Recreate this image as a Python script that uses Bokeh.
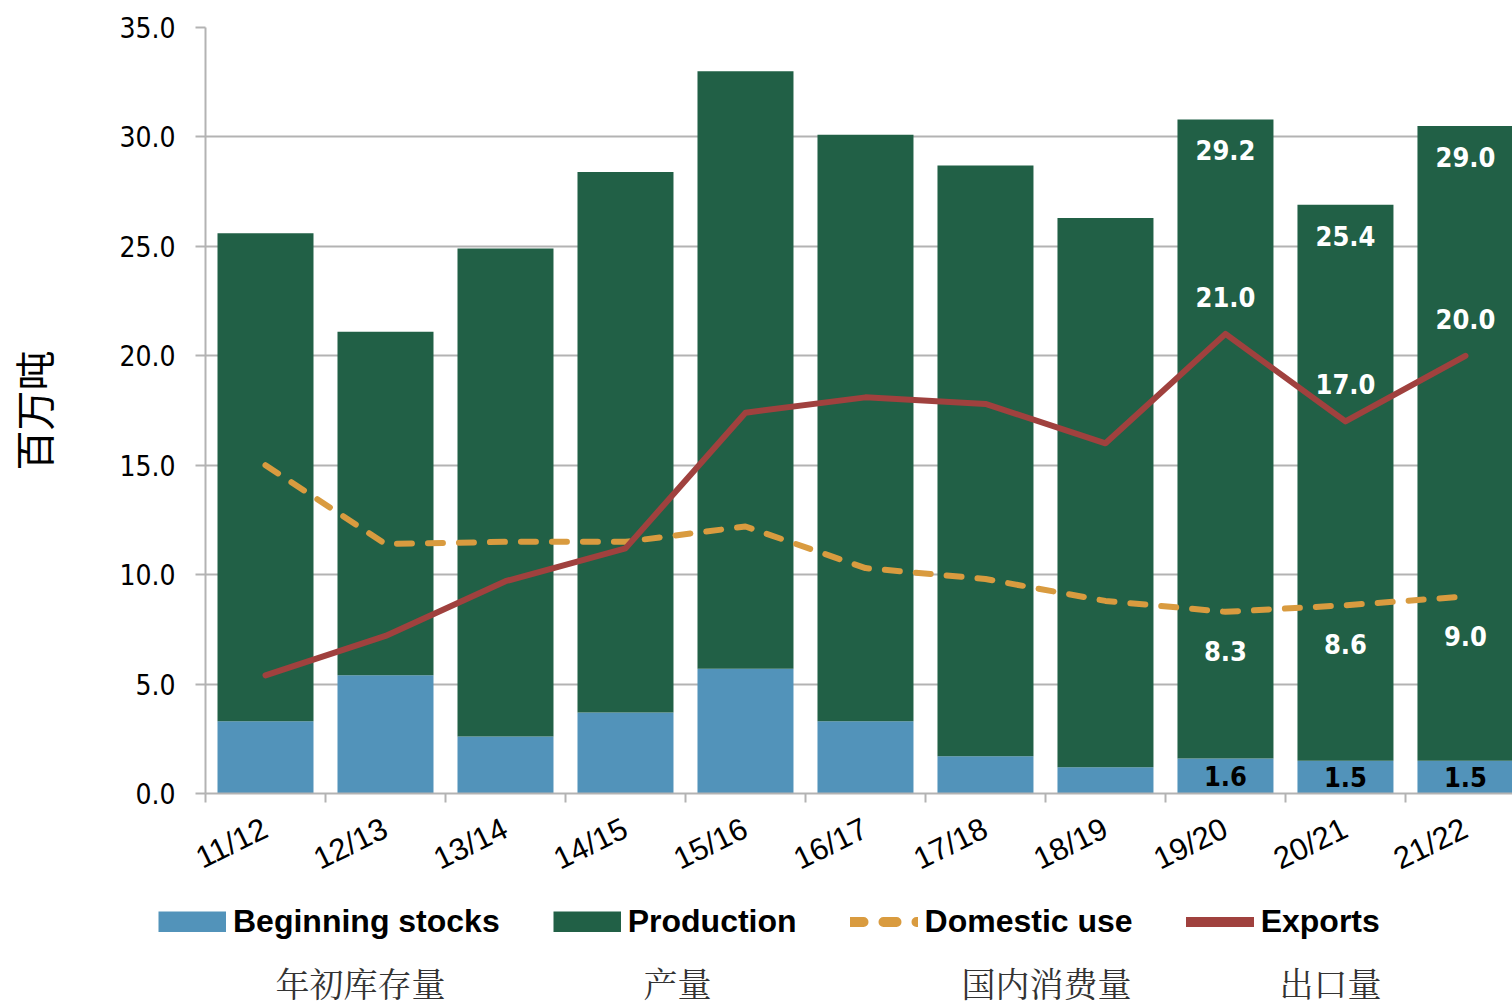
import math
from bokeh.plotting import figure
from bokeh.models import (ColumnDataSource, Range1d, FixedTicker, NumeralTickFormatter,
                          Legend, LegendItem, Label)
from bokeh.core.properties import value
from bokeh.embed import file_html
from bokeh.resources import INLINE

seasons = ["11/12", "12/13", "13/14", "14/15", "15/16", "16/17",
           "17/18", "18/19", "19/20", "20/21", "21/22"]
beginning_stocks = [3.3, 5.4, 2.6, 3.7, 5.7, 3.3, 1.7, 1.2, 1.6, 1.5, 1.5]
production = [22.3, 15.7, 22.3, 24.7, 27.3, 26.8, 27.0, 25.1, 29.2, 25.4, 29.0]
domestic_use = [15.0, 11.4, 11.5, 11.5, 12.2, 10.3, 9.8, 8.8, 8.3, 8.6, 9.0]
exports = [5.4, 7.2, 9.7, 11.2, 17.4, 18.1, 17.8, 16.0, 21.0, 17.0, 20.0]
labelled_from = 8  # value labels shown for the last three seasons
y_ticks = [0, 5, 10, 15, 20, 25, 30, 35]
legend_en = ["Beginning stocks", "Production", "Domestic use", "Exports"]
legend_cn = ["年初库存量", "产量", "国内消费量", "出口量"]

BLUE = "#5293BA"
GREEN = "#216046"
ORANGE = "#D99B3F"
RED = "#A0413E"
GRAY = "#B3B3B3"
NARROW = "'Liberation Sans Narrow', 'DejaVu Sans Condensed', 'Liberation Sans'"

centers = [i + 0.5 for i in range(len(seasons))]
totals = [s + p for s, p in zip(beginning_stocks, production)]

src = ColumnDataSource(dict(x=centers, stocks=beginning_stocks, production=production,
                            domestic=domestic_use, exports=exports))

p = figure(width=1512, height=903, x_range=Range1d(0, 10.892), y_range=Range1d(0, 35),
           output_backend="svg", toolbar_location=None,
           min_border_left=205, min_border_right=0, min_border_top=27, min_border_bottom=110)
p.outline_line_color = None

bars = p.vbar_stack(["stocks", "production"], x="x", width=0.8, color=[BLUE, GREEN],
                    line_color=None, source=src)
p.line("x", "domestic", source=src, line_color=ORANGE, line_width=6,
       line_dash="15 16", line_cap="round", line_join="round")
p.line("x", "exports", source=src, line_color=RED, line_width=6,
       line_cap="round", line_join="round")

k = labelled_from
lab = ColumnDataSource(dict(
    x=centers[k:],
    total=totals[k:],
    prod_txt=["%.1f" % v for v in production[k:]],
    stock_mid=[v / 2 for v in beginning_stocks[k:]],
    stock_txt=["%.1f" % v for v in beginning_stocks[k:]],
    dom=domestic_use[k:],
    dom_txt=["%.1f" % v for v in domestic_use[k:]],
    exp=exports[k:],
    exp_txt=["%.1f" % v for v in exports[k:]],
))
common = dict(source=lab, text_align="center", text_baseline="middle",
              text_font=value(NARROW), text_font_style="bold", text_font_size="27px")
p.text(x="x", y="total", text="prod_txt", y_offset=31, text_color="white", **common)
p.text(x="x", y="stock_mid", text="stock_txt", text_color="black", **common)
p.text(x="x", y="exp", text="exp_txt", y_offset=-37, text_color="white", **common)
p.text(x="x", y="dom", text="dom_txt", y_offset=39, text_color="white", **common)

# x axis
xa = p.xaxis[0]
xa.ticker = FixedTicker(ticks=centers, minor_ticks=list(range(len(seasons) + 1)))
xa.major_label_overrides = {c: s for c, s in zip(centers, seasons)}
xa.major_tick_out = 0
xa.major_tick_in = 0
xa.minor_tick_out = 9
xa.minor_tick_in = 0
xa.minor_tick_line_color = GRAY
xa.minor_tick_line_width = 2
xa.axis_line_color = GRAY
xa.axis_line_width = 2
xa.major_label_orientation = math.radians(26)
xa.major_label_text_font = "Liberation Sans"
xa.major_label_text_font_size = "31px"
xa.major_label_text_color = "black"
xa.major_label_standoff = 24

# y axis
ya = p.yaxis[0]
ya.ticker = FixedTicker(ticks=y_ticks)
ya.formatter = NumeralTickFormatter(format="0.0")
ya.axis_line_color = GRAY
ya.axis_line_width = 2
ya.major_tick_out = 10
ya.major_tick_in = 0
ya.major_tick_line_color = GRAY
ya.major_tick_line_width = 2
ya.minor_tick_line_color = None
ya.major_label_text_font = NARROW
ya.major_label_text_font_size = "28px"
ya.major_label_text_color = "black"
ya.major_label_standoff = 20
ya.axis_label = "百万吨"
ya.axis_label_text_font = "Noto Sans CJK SC"
ya.axis_label_text_font_size = "40px"
ya.axis_label_text_font_style = "normal"
ya.axis_label_text_color = "black"
ya.axis_label_standoff = 54

p.xgrid.grid_line_color = None
p.ygrid.grid_line_color = GRAY
p.ygrid.grid_line_width = 2

# legend panel below the chart (separate root; x data = page pixels, y data = -pixels from top)
H2 = 105
LEFT2 = 158
p2 = figure(width=1512, height=H2, x_range=Range1d(LEFT2, 1512), y_range=Range1d(-H2, 0),
            output_backend="svg", toolbar_location=None,
            x_axis_location=None, y_axis_location=None,
            min_border_left=LEFT2, min_border_right=0, min_border_top=0, min_border_bottom=0)
p2.outline_line_color = None
p2.grid.visible = False
# legend proxies: same data, lying outside this panel's ranges (only the legend glyphs show)
g1 = p2.line("x", "stocks", source=src, line_color=BLUE, line_width=21, line_cap="butt")
g2 = p2.line("x", "production", source=src, line_color=GREEN, line_width=21, line_cap="butt")
g3 = p2.line("x", "domestic", source=src, line_color=ORANGE, line_width=10,
             line_dash="13 20", line_cap="round")
g4 = p2.line("x", "exports", source=src, line_color=RED, line_width=10, line_cap="round")

legend = Legend(items=[LegendItem(label=t, renderers=[r]) for t, r in zip(legend_en, [g1, g2, g3, g4])],
                orientation="horizontal", location="top_left",
                glyph_width=68, glyph_height=21, label_standoff=7, spacing=53,
                padding=0, margin=0, border_line_color=None, background_fill_alpha=0,
                label_text_font="Liberation Sans", label_text_font_style="bold",
                label_text_font_size="32px", label_height=21, label_text_color="black")
p2.add_layout(legend)

cn_x = [360, 677, 1046, 1330]
for t, cx in zip(legend_cn, cn_x):
    p2.add_layout(Label(x=cx, y=-79, text=t, text_align="center", text_baseline="middle",
                        text_font="'Noto Serif CJK SC', 'Noto Sans CJK SC'",
                        text_font_size="34px", text_color="#333333"))

open("out.html", "w").write(file_html([p, p2], INLINE))
